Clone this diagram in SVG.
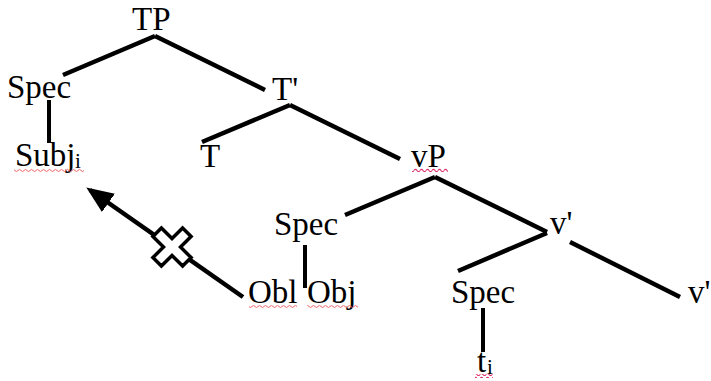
<svg xmlns="http://www.w3.org/2000/svg" width="711" height="381" viewBox="0 0 711 381">
<style>
text { font-family: "Liberation Serif", "Times New Roman", serif; font-size: 33px; fill: #000; }
.sub { font-size: 21px; }
.edge { stroke: #000; stroke-width: 4.5; fill: none; stroke-linecap: butt; }
.vert { stroke: #000; stroke-width: 4; fill: none; }
.squig { fill: url(#wave); }
.squig2 { fill: url(#wave2); }
</style>
<defs>
<pattern id="wave" patternUnits="userSpaceOnUse" width="6" height="4">
<path d="M0 2.5 Q1.5 0.3 3 2.5 T6 2.5" stroke="#f06060" stroke-width="1" fill="none"/>
</pattern>
<pattern id="wave2" patternUnits="userSpaceOnUse" width="6" height="4">
<path d="M0 2.5 Q1.5 0.3 3 2.5 T6 2.5" stroke="#e0306a" stroke-width="1.1" fill="none"/>
</pattern>
<marker id="arrow" markerWidth="6" markerHeight="5" refX="5" refY="2.5" orient="auto" markerUnits="strokeWidth">
<path d="M0 0 L6 2.5 L0 5 Z" fill="#000"/>
</marker>
</defs>
<rect width="711" height="381" fill="#fff"/>
<g id="connectors">
<line class="edge" x1="155" y1="36" x2="63" y2="75"/>
<line class="edge" x1="155" y1="36" x2="265" y2="90"/>
<line class="vert" x1="49" y1="100" x2="49" y2="143"/>
<line class="edge" x1="290" y1="105" x2="202" y2="142"/>
<line class="edge" x1="290" y1="105" x2="400" y2="159"/>
<line class="edge" x1="435" y1="177" x2="345" y2="215"/>
<line class="edge" x1="435" y1="177" x2="547" y2="232"/>
<line class="vert" x1="305" y1="245" x2="305" y2="288"/>
<line class="edge" x1="547" y1="233" x2="458" y2="271"/>
<line class="edge" x1="570" y1="242" x2="680" y2="297"/>
<line class="vert" x1="483" y1="308" x2="483" y2="352"/>
<line class="edge" x1="243" y1="297" x2="90" y2="190" stroke-width="4" marker-end="url(#arrow)"/>
<g id="blocked" transform="translate(172 247) rotate(45)">
<path d="M-6 -21 H6 V-6 H21 V6 H6 V21 H-6 V6 H-21 V-6 H-6 Z" fill="#fff" stroke="#000" stroke-width="3.5" stroke-linejoin="miter"/>
</g>
</g>
<g id="TP"><text x="132" y="30">TP</text></g>
<g id="SpecTP"><text x="7" y="98">Spec</text></g>
<g id="Subj"><text x="15" y="166">Subj</text><text class="sub" x="75" y="168">i</text><rect class="squig" x="14" y="168" width="70" height="4"/></g>
<g id="Tbar"><text x="272" y="100">T'</text></g>
<g id="T"><text x="200" y="167">T</text></g>
<g id="vP"><text x="411" y="167">vP</text><rect class="squig2" x="412" y="168" width="36" height="4"/></g>
<g id="SpecvP"><text x="274" y="235">Spec</text></g>
<g id="vbar"><text x="550" y="234">v'</text></g>
<g id="Obl"><text x="248" y="303">Obl</text><rect class="squig" x="249" y="305" width="48" height="4"/></g>
<g id="Obj"><text x="307" y="303">Obj</text><rect class="squig" x="307" y="305" width="51" height="4"/></g>
<g id="Specvbar"><text x="451" y="303">Spec</text></g>
<g id="vbar2"><text x="688" y="303">v'</text></g>
<g id="trace"><text x="477" y="372">t</text><text class="sub" x="487" y="374">i</text><rect class="squig2" x="475" y="374" width="18" height="4"/></g>
</svg>
